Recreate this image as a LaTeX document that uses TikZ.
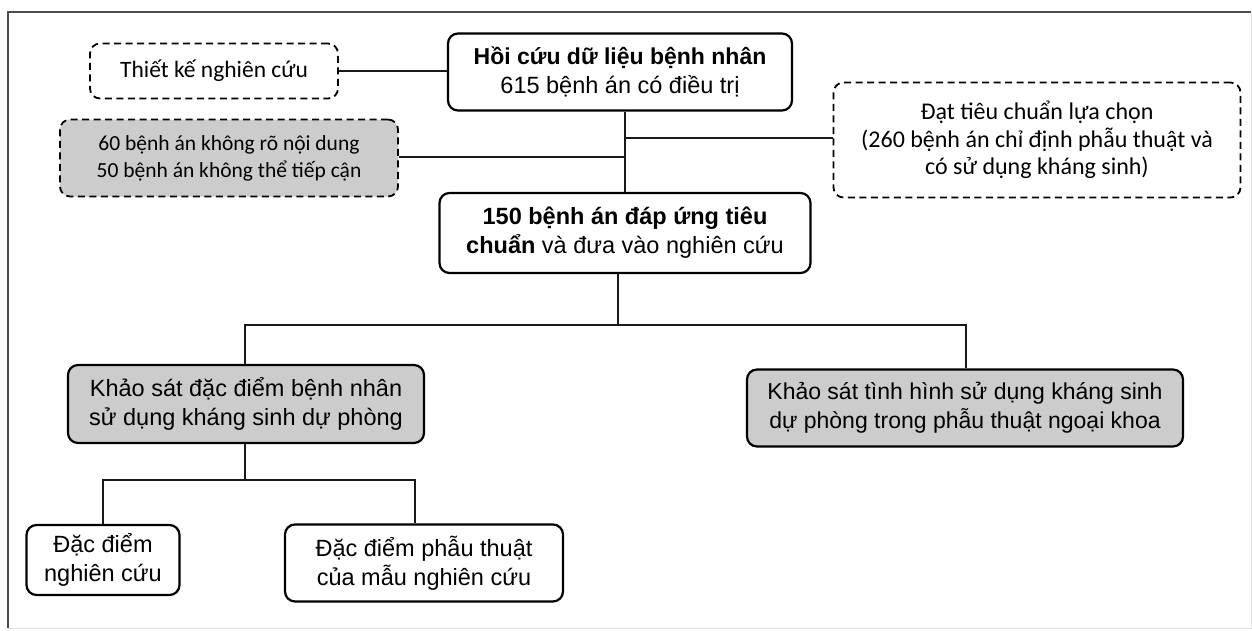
\documentclass[tikz,border=0pt]{standalone}
\usepackage{fontspec}
\setmainfont{Liberation Sans}
\newfontfamily\calib{Carlito}
\begin{document}
\begin{tikzpicture}[x=1pt,y=-1pt,
  box/.style={draw=black,line width=2.2pt,rounded corners=10pt,align=center,inner sep=0pt,
    font=\fontsize{23.5}{29}\selectfont},
  dbox/.style={box,dashed,dash pattern=on 7pt off 4.5pt,line width=1.8pt,font=\calib\fontsize{23.5}{28}\selectfont},
  grayfill/.style={fill=black!20},
  conn/.style={line width=1.8pt,draw=black!90}]
\useasboundingbox (0,0) rectangle (1252,630);
\fill[white] (0,0) rectangle (1252,630);
\draw[line width=1.2pt,black!70] (8,628) -- (8,12) -- (1251,12);
\draw[line width=0.8pt,black!12] (1251,12) -- (1251,628) -- (8,628);

\node[dbox,minimum width=248pt,minimum height=55pt] (tk) at (214,71) {Thiết kế nghiên cứu};
\node[dbox,grayfill,minimum width=338pt,minimum height=77pt,font=\calib\fontsize{21.5}{27}\selectfont] (gb) at (229,158) {60 bệnh án không rõ nội dung\\50 bệnh án không thể tiếp cận};
\node[box,minimum width=344pt,minimum height=77pt] (hc) at (620,72) {{\fontsize{23}{29}\selectfont\textbf{Hồi cứu dữ liệu bệnh nhân}}\\615 bệnh án có điều trị};
\node[dbox,minimum width=407pt,minimum height=115pt,font=\calib\fontsize{24}{27.5}\selectfont] (rb) at (1037,140) {Đạt tiêu chuẩn lựa chọn\\(260 bệnh án chỉ định phẫu thuật và\\có sử dụng kháng sinh)};
\node[box,minimum width=371pt,minimum height=80pt] (bn) at (625,233) {\textbf{150 bệnh án đáp ứng tiêu}\\\textbf{chuẩn} và đưa vào nghiên cứu};
\node[box,grayfill,minimum width=356pt,minimum height=78pt] (ls) at (246,404) {Khảo sát đặc điểm bệnh nhân\\sử dụng kháng sinh dự phòng};
\node[box,grayfill,minimum width=436pt,minimum height=77pt,font=\fontsize{23}{29}\selectfont] (rs) at (965,408) {Khảo sát tình hình sử dụng kháng sinh\\dự phòng trong phẫu thuật ngoại khoa};
\node[box,minimum width=153pt,minimum height=70pt] (d1) at (103,560) {Đặc điểm\\nghiên cứu};
\node[box,minimum width=278pt,minimum height=77pt] (d2) at (424,563) {Đặc điểm phẫu thuật\\của mẫu nghiên cứu};

\coordinate (j1) at (625,138);
\coordinate (j2) at (625,157);
\coordinate (j3) at (618,325);
\coordinate (jl) at (245,325);
\coordinate (jr) at (966,325);
\coordinate (k0) at (245,480);
\coordinate (kl) at (103,480);
\coordinate (kr) at (415,480);

\draw[conn] (tk.east) -- (tk.east -| hc.west);
\draw[conn] (hc.south -| bn.north) -- (bn.north);
\draw[conn] (j1) -- (j1 -| rb.west);
\draw[conn] (j2) -- (j2 -| gb.east);
\draw[conn] (bn.south -| j3) -- (j3);
\draw[conn] (jl |- ls.north) -- (jl) -- (jr) -- (jr |- rs.north);
\draw[conn] (ls.south -| k0) -- (k0);
\draw[conn] (kl |- d1.north) -- (kl) -- (kr) -- (kr |- d2.north);
\end{tikzpicture}
\end{document}
